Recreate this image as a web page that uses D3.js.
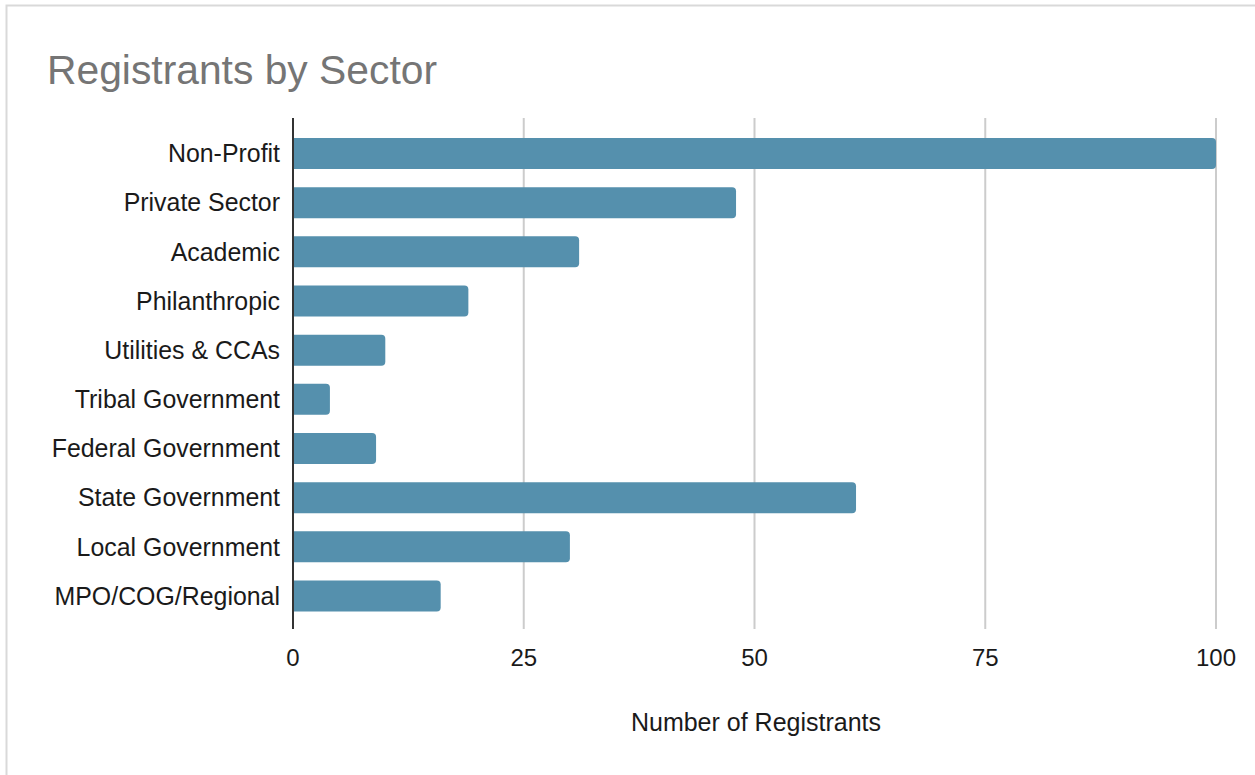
<!DOCTYPE html>
<html>
<head>
<meta charset="utf-8">
<script src="https://cdn.jsdelivr.net/npm/d3@7"></script>
<style>
  body { margin: 0; background: #fff; }
  svg { display: block; }
  svg text { font-family: Arial, "Liberation Sans", sans-serif; }
</style>
</head>
<body>
<svg id="chart" width="1255" height="775"></svg>
<script>
const sectors = ["Non-Profit", "Private Sector", "Academic", "Philanthropic", "Utilities & CCAs",
                 "Tribal Government", "Federal Government", "State Government", "Local Government", "MPO/COG/Regional"];
const registrants = [100, 48, 31, 19, 10, 4, 9, 61, 30, 16];
const xTicks = [0, 25, 50, 75, 100];

const svg = d3.select("#chart");

// outer frame
svg.append("rect")
    .attr("x", 6.5).attr("y", 5.5)
    .attr("width", 1270).attr("height", 790)
    .attr("fill", "#fff")
    .attr("stroke", "#d9d9d9")
    .attr("stroke-width", 2);

svg.append("text")
    .attr("x", 47).attr("y", 84)
    .attr("font-size", 40.8)
    .attr("fill", "#757575")
    .text("Registrants by Sector");

const x = d3.scaleLinear().domain([0, 100]).range([293, 1216]);
const y = d3.scaleBand().domain(sectors).range([128.9, 620.6]).paddingInner(0.37).paddingOuter(0.185);

// grid lines
svg.append("g")
    .selectAll("line")
    .data(xTicks.filter(d => d > 0))
    .join("line")
    .attr("x1", d => x(d)).attr("x2", d => x(d))
    .attr("y1", 118).attr("y2", 629)
    .attr("stroke", "#cccccc")
    .attr("stroke-width", 2);

// bars with rounded right end
const r = 4;
svg.append("g")
    .selectAll("path")
    .data(sectors.map((s, i) => ({ s, v: registrants[i] })))
    .join("path")
    .attr("fill", "#5590ad")
    .attr("d", d => {
        const x0 = x(0), x1 = x(d.v), y0 = y(d.s), h = y.bandwidth();
        return `M${x0},${y0}H${x1 - r}Q${x1},${y0} ${x1},${y0 + r}V${y0 + h - r}Q${x1},${y0 + h} ${x1 - r},${y0 + h}H${x0}Z`;
    });

// zero line
svg.append("line")
    .attr("x1", x(0)).attr("x2", x(0))
    .attr("y1", 118).attr("y2", 629)
    .attr("stroke", "#333")
    .attr("stroke-width", 2);

// category labels
svg.append("g")
    .selectAll("text")
    .data(sectors)
    .join("text")
    .attr("x", 280)
    .attr("y", d => y(d) + y.bandwidth() / 2)
    .attr("dy", "0.35em")
    .attr("text-anchor", "end")
    .attr("font-size", 24.9)
    .attr("fill", "#1a1a1a")
    .text(d => d);

// x tick labels
svg.append("g")
    .selectAll("text")
    .data(xTicks)
    .join("text")
    .attr("x", d => x(d))
    .attr("y", 658)
    .attr("dy", "0.35em")
    .attr("text-anchor", "middle")
    .attr("font-size", 24)
    .attr("fill", "#1a1a1a")
    .text(d => d);

svg.append("text")
    .attr("x", 756).attr("y", 722)
    .attr("dy", "0.35em")
    .attr("text-anchor", "middle")
    .attr("font-size", 25)
    .attr("fill", "#1a1a1a")
    .text("Number of Registrants");
</script>
</body>
</html>
